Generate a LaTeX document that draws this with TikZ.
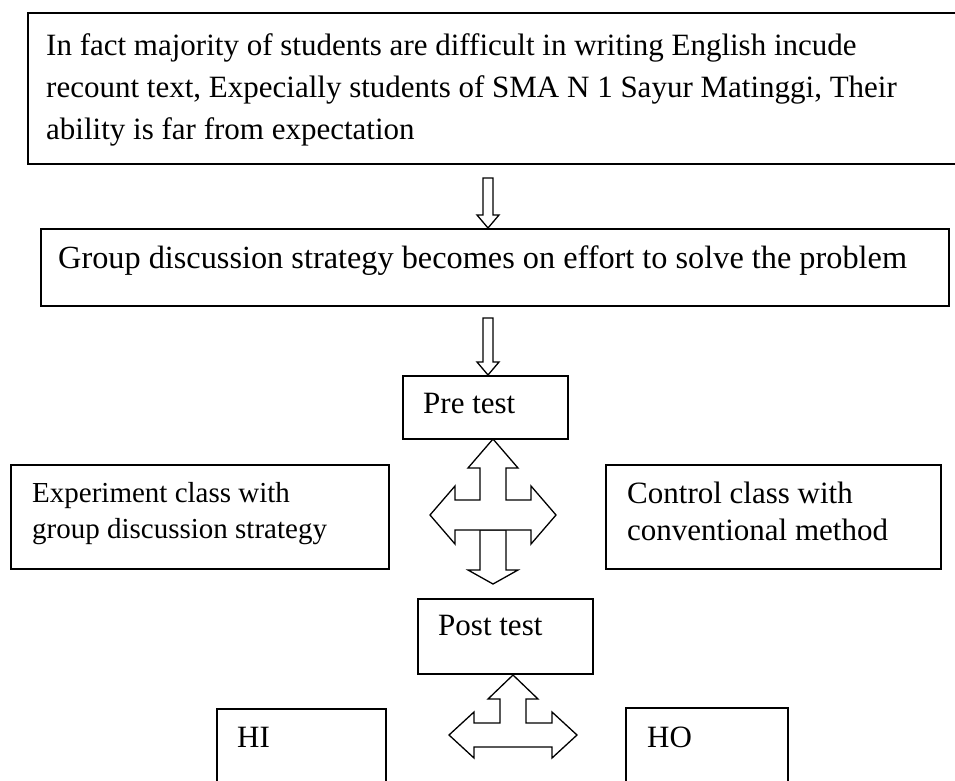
\documentclass[tikz,border=0pt]{standalone}
\usepackage{fontspec}
\setmainfont{Liberation Serif}
\usetikzlibrary{calc}
\begin{document}
\begin{tikzpicture}[x=1pt,y=-1pt,
  box/.style={draw=black, line width=1.6pt, inner sep=0pt, anchor=north west},
  txt/.style={anchor=base west, inner sep=0pt, font=\fontsize{31}{36}\selectfont},
  btxt/.style={anchor=base west, inner sep=0pt, font=\fontsize{32.3}{38}\selectfont},
  stxt/.style={anchor=base west, inner sep=0pt, font=\fontsize{29}{34}\selectfont},
  blk/.style={draw=black, line width=1.3pt, fill=white, line join=miter}]
\useasboundingbox (0,0) rectangle (955,780);
\clip (0,0) rectangle (955,780);

% boxes
\node[box, minimum width=933pt, minimum height=151pt] (b1) at (27,12) {};
\node[box, minimum width=908pt, minimum height=77pt] (b2) at (40,228) {};
\node[box, minimum width=165pt, minimum height=63pt] (pre) at (402,375) {};
\node[box, minimum width=175pt, minimum height=75pt] (post) at (417,598) {};
\node[box, minimum width=378pt, minimum height=104pt] (exp) at (10,464) {};
\node[box, minimum width=335pt, minimum height=104pt] (ctl) at (605,464) {};
\node[box, minimum width=169pt, minimum height=100pt] (hi) at (216,708) {};
\node[box, minimum width=162pt, minimum height=100pt] (ho) at (625,707) {};

% texts
\node[txt] (t1a) at (46,55) {In fact majority of students are difficult in writing English incude};
\node[txt] (t1b) at (46,97) {recount text, Expecially students of SMA N 1 Sayur Matinggi, Their};
\node[txt] (t1c) at (46,139) {ability is far from expectation};
\node[btxt] (t2) at (58,268) {Group discussion strategy becomes on effort to solve the problem};
\node[txt] (tpre) at (423,413) {Pre test};
\node[txt] (tpost) at (438,635) {Post test};
\node[stxt] (texa) at (32,502) {Experiment class with};
\node[stxt] (texb) at (32,538) {group discussion strategy};
\node[txt] (tcta) at (627,503) {Control class with};
\node[txt] (tctb) at (627,540) {conventional method};
\node[txt] (thi) at (237,747) {HI};
\node[txt] (tho) at (647,747) {HO};

% single hollow arrows
\draw[blk, shift={(488,0 |- b2.north)}]
  (-5,-50) -- (5,-50) -- (5,-13) -- (11,-13) -- (0,0) -- (-11,-13) -- (-5,-13) -- cycle;
\draw[blk, shift={(488,0 |- pre.north)}]
  (-5,-57) -- (5,-57) -- (5,-13) -- (11,-13) -- (0,0) -- (-11,-13) -- (-5,-13) -- cycle;

% cross arrow 1 (three-way + separate down arrow)
\coordinate (c1) at (493,515);
\draw[blk, shift={(c1)}]
  (-13,15) -- (13,15) -- (13,55) -- (25,55) -- (0,69) -- (-25,55) -- (-13,55) -- cycle;
\draw[blk, shift={(c1)}]
  (0,-76) -- (25,-47) -- (13,-47) -- (13,-15) -- (38,-15) -- (38,-29) -- (63,0)
  -- (38,29) -- (38,15) -- (-38,15) -- (-38,29) -- (-63,0) -- (-38,-29)
  -- (-38,-15) -- (-13,-15) -- (-13,-47) -- (-25,-47) -- cycle;

% cross arrow 2 (three-way)
\coordinate (c2) at (513,735);
\draw[blk, shift={(c2)}]
  (0,-60) -- (25,-36) -- (13,-36) -- (13,-12) -- (39,-12) -- (39,-23) -- (64,0)
  -- (39,23) -- (39,12) -- (-39,12) -- (-39,23) -- (-64,0) -- (-39,-23)
  -- (-39,-12) -- (-13,-12) -- (-13,-36) -- (-25,-36) -- cycle;
\end{tikzpicture}
\end{document}
